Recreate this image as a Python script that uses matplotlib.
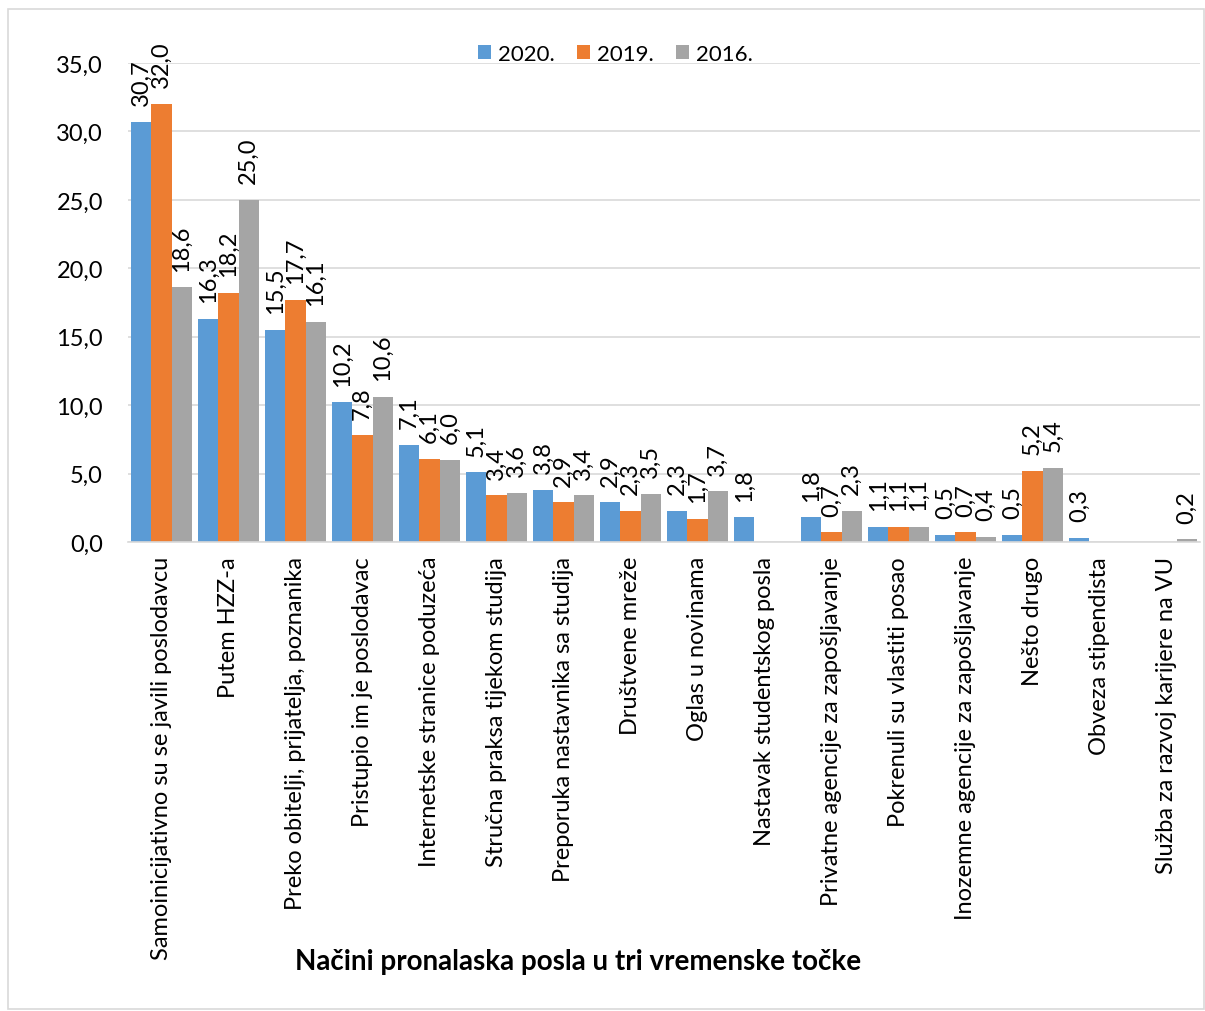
import numpy as np
import matplotlib
matplotlib.use("Agg")
import matplotlib.pyplot as plt
from matplotlib.patches import Rectangle

plt.rcParams['font.family'] = ['Lato', 'DejaVu Sans']

categories = [
    "Samoinicijativno su se javili poslodavcu",
    "Putem HZZ-a",
    "Preko obitelji, prijatelja, poznanika",
    "Pristupio im je poslodavac",
    "Internetske stranice poduzeća",
    "Stručna praksa tijekom studija",
    "Preporuka nastavnika sa studija",
    "Društvene mreže",
    "Oglas u novinama",
    "Nastavak studentskog posla",
    "Privatne agencije za zapošljavanje",
    "Pokrenuli su vlastiti posao",
    "Inozemne agencije za zapošljavanje",
    "Nešto drugo",
    "Obveza stipendista",
    "Služba za razvoj karijere na VU",
]
nan = np.nan
y2020 = [30.7, 16.3, 15.5, 10.2, 7.1, 5.1, 3.8, 2.9, 2.3, 1.8, 1.8, 1.1, 0.5, 0.5, 0.3, nan]
y2019 = [32.0, 18.2, 17.7, 7.8, 6.1, 3.4, 2.9, 2.3, 1.7, nan, 0.7, 1.1, 0.7, 5.2, nan, nan]
y2016 = [18.6, 25.0, 16.1, 10.6, 6.0, 3.6, 3.4, 3.5, 3.7, nan, 2.3, 1.1, 0.4, 5.4, nan, 0.2]
series_names = ["2020.", "2019.", "2016."]
colors = ["#5B9BD5", "#ED7D31", "#A5A5A5"]
yticks = [0, 5, 10, 15, 20, 25, 30, 35]

W, H = 1205, 1012
fig = plt.figure(figsize=(W / 100, H / 100), dpi=100)
ax = fig.add_axes([128 / W, 1 - 543 / H, (1200 - 128) / W, (543 - 64) / H])

x = np.arange(len(categories))
bw = 0.3
series = [y2020, y2019, y2016]
handles = []
for i, (vals, c, name) in enumerate(zip(series, colors, series_names)):
    pos = x + (i - 1) * bw
    b = ax.bar(pos, vals, width=bw, color=c, label=name, zorder=3)
    handles.append(b)
    for px, v in zip(pos, vals):
        if np.isnan(v):
            continue
        ax.annotate(f"{v:.1f}".replace(".", ","), (px, v), xytext=(0, 12),
                    textcoords="offset points", rotation=90, ha="center",
                    va="bottom", fontsize=17, zorder=4)

ax.set_xlim(-0.5, len(categories) - 0.5)
ax.set_ylim(0, 35)
ax.set_yticks(yticks)
ax.set_yticklabels([f"{t:.1f}".replace(".", ",") for t in yticks], fontsize=17)
ax.set_xticks(x)
ax.set_xticklabels(categories, rotation=90, fontsize=17, va="top", ha="center")
ax.tick_params(axis="y", length=0, pad=18)
ax.tick_params(axis="x", length=0, pad=10)
ax.grid(axis="y", color="#D9D9D9", linewidth=1.2, zorder=0)
for s in ["top", "right", "left"]:
    ax.spines[s].set_visible(False)
ax.spines["bottom"].set_color("#D9D9D9")
ax.spines["bottom"].set_linewidth(1.2)
ax.spines["bottom"].set_zorder(5)

fig.legend(handles=handles, labels=series_names, loc="center",
           bbox_to_anchor=(615 / W, 1 - 55 / H), ncol=3, frameon=False,
           fontsize=16, handlelength=0.6, handleheight=0.6, handletextpad=0.3,
           columnspacing=1.0)

fig.text(578 / W, 1 - 962 / H, "Načini pronalaska posla u tri vremenske točke",
         ha="center", va="center", fontsize=20, fontweight="bold")

fig.patches.append(Rectangle((8 / W, 1 - 1010 / H), (1204 - 8) / W, (1010 - 10) / H,
                             transform=fig.transFigure, fill=False,
                             edgecolor="#D9D9D9", linewidth=1.2))

fig.savefig("out.png", dpi=100)
